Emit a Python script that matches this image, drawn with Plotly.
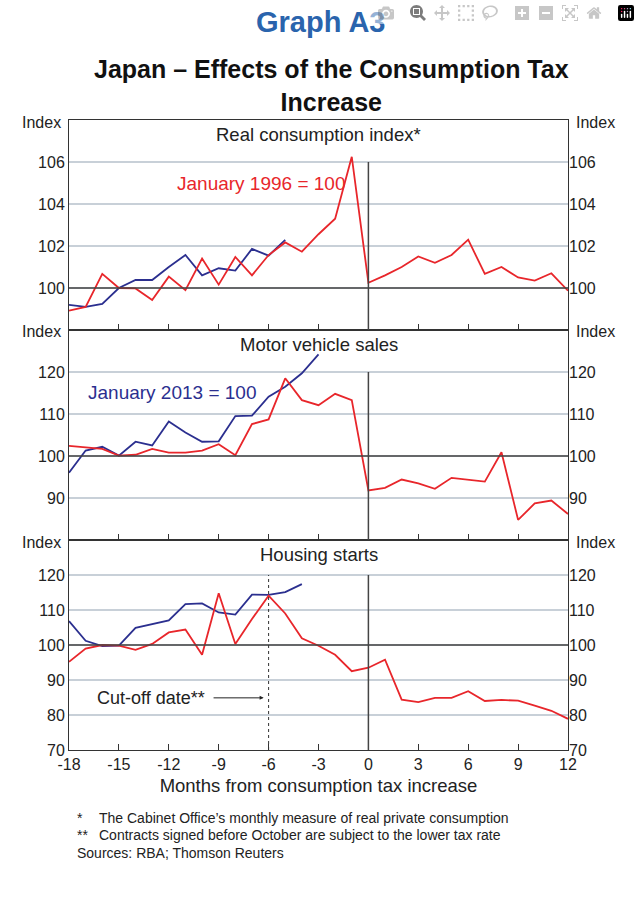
import plotly.graph_objects as go
from plotly.subplots import make_subplots

months = list(range(-18, 13))
months_pre = list(range(-18, -4))
cons_red = [98.92,99.1,100.67,100,99.98,99.43,100.54,99.9,101.4,100.16,101.48,100.6,101.57,102.17,101.73,102.56,103.3,106.25,
            100.25,100.6,101,101.5,101.2,101.57,102.3,100.67,101,100.5,100.35,100.7,99.87]
cons_blue = [99.2,99.1,99.24,100,100.38,100.38,101,101.57,100.6,100.94,100.83,101.86,101.54,102.29]
mv_red = [102.4,102.1,101.7,100.1,100.3,101.7,100.8,100.8,101.3,102.8,100.2,107.6,108.7,118.5,113.3,112.1,114.8,113.3,
          91.8,92.4,94.4,93.5,92.2,94.8,94.3,93.9,100.9,84.8,88.7,89.4,86.2]
mv_blue_x = list(range(-18, -2))
mv_blue = [96,101.3,102.2,100.1,103.4,102.5,108.2,105.6,103.4,103.5,109.5,109.6,114.1,116.5,119.7,124.2]
hs_red = [95.2,99,100,99.8,98.6,100.3,103.6,104.4,97.2,114.8,100.3,107.4,114.1,109,101.9,99.8,97.2,92.5,
          93.5,95.8,84.4,83.7,84.9,84.9,86.8,84,84.3,84.1,82.7,81.2,78.9]
hs_blue_x = list(range(-18, -3))
hs_blue = [106.8,101.2,99.7,99.8,104.9,106,107,111.7,111.9,109.3,108.7,114.4,114.3,115.1,117.4]
x_ticks = list(range(-18, 13, 3))

RED = "#e8262b"; BLUE = "#2b2f8f"; GRID = "#c8d0d8"; TXT = "#222"
F = "Arial, Liberation Sans, sans-serif"
W, HGT = 640, 907
ML, MR, MT, MB = 69, 72, 120, 157

panels = [
    dict(red=(months, cons_red), blue=(months_pre, cons_blue), rng=[98,108], ticks=[100,102,104,106], top=106, title="Real consumption index*"),
    dict(red=(months, mv_red), blue=(mv_blue_x, mv_blue), rng=[80,130], ticks=[90,100,110,120], top=120, title="Motor vehicle sales"),
    dict(red=(months, hs_red), blue=(hs_blue_x, hs_blue), rng=[70,130], ticks=[70,80,90,100,110,120], top=120, title="Housing starts"),
]

fig = make_subplots(rows=3, cols=1, shared_xaxes=True, vertical_spacing=0)
H = 1/3
tf = dict(size=16, color=TXT, family=F)
for i, p in enumerate(panels):
    r = i + 1
    xn = "x" if r == 1 else f"x{r}"
    yref = "y" if r == 1 else f"y{r}"
    fig.add_trace(go.Scatter(x=p["blue"][0], y=p["blue"][1], mode="lines", line=dict(color=BLUE, width=1.8), showlegend=False, hoverinfo="skip"), row=r, col=1)
    fig.add_trace(go.Scatter(x=p["red"][0], y=p["red"][1], mode="lines", line=dict(color=RED, width=1.8), showlegend=False, hoverinfo="skip"), row=r, col=1)
    fig.update_yaxes(range=p["rng"], tickvals=p["ticks"], showgrid=True, gridcolor=GRID, gridwidth=1.5,
                     zeroline=False, showline=True, linecolor="#333", mirror=True, ticks="",
                     tickfont=tf, row=r, col=1)
    fig.update_layout(**{f"yaxis{r+3}": dict(range=p["rng"], tickvals=p["ticks"], overlaying=yref, side="right",
                                              anchor=xn, showgrid=False, zeroline=False, showline=False, ticks="",
                                              tickfont=tf)})
    fig.add_trace(go.Scatter(x=[-18], y=[p["rng"][0]], xaxis=xn, yaxis=f"y{r+3}", mode="markers",
                             marker=dict(opacity=0), showlegend=False, hoverinfo="skip"))
    dom = [1 - (i+1)*H, 1 - i*H]
    fig.add_shape(type="line", x0=-18, x1=12, y0=100, y1=100, xref=xn, yref=yref, line=dict(color="#444", width=1.5))
    fig.add_shape(type="line", x0=0, x1=0, y0=p["rng"][0], y1=p["top"], xref=xn, yref=yref, line=dict(color="#444", width=1.5))
    fig.add_annotation(x=0.5, xref="paper", y=dom[1], yref="paper", yshift=-2, text=p["title"], showarrow=False,
                       yanchor="top", font=dict(size=18.5, color=TXT, family=F))
    fig.add_annotation(x=-0.012, xref="paper", y=dom[1], yref="paper", text="Index", showarrow=False,
                       xanchor="right", yanchor="middle", yshift=-2, font=tf)
    fig.add_annotation(x=1.012, xref="paper", y=dom[1], yref="paper", text="Index", showarrow=False,
                       xanchor="left", yanchor="middle", yshift=-2, font=tf)

fig.add_shape(type="line", x0=-6, x1=-6, y0=70, y1=120, xref="x3", yref="y3", line=dict(color="#333", width=1, dash="dot"))
fig.add_annotation(x=-6.3, y=84.9, ax=-9.4, ay=84.9, axref="x3", ayref="y3", xref="x3", yref="y3", text="", showarrow=True,
                   arrowhead=2, arrowsize=0.8, arrowwidth=1, arrowcolor=TXT)
fig.add_annotation(x=-9.7, y=84.9, xref="x3", yref="y3", text="Cut-off date**", showarrow=False, xanchor="right",
                   font=dict(size=18, color=TXT, family=F))
fig.add_annotation(x=-6.45, y=105, xref="x", yref="y", text="January 1996 = 100", showarrow=False,
                   font=dict(size=19, color=RED, family=F))
fig.add_annotation(x=-11.8, y=115.2, xref="x2", yref="y2", text="January 2013 = 100", showarrow=False,
                   font=dict(size=19, color=BLUE, family=F))

for r in (1, 2, 3):
    fig.update_xaxes(range=[-18, 12], tickvals=x_ticks, ticktext=[str(v) for v in x_ticks], showgrid=False, zeroline=False,
                     showline=True, linecolor="#333", mirror=True, ticks="inside", ticklen=6, tickcolor="#333",
                     tickfont=tf, row=r, col=1)
fig.update_xaxes(title=dict(text="Months from consumption tax increase", font=dict(size=18.5, color=TXT, family=F), standoff=6), row=3, col=1)

fig.update_layout(width=W, height=HGT, plot_bgcolor="white", paper_bgcolor="white",
                  margin=dict(l=ML, r=MR, t=MT, b=MB), font=dict(family=F))

def px(x):
    return (x - ML) / (W - ML - MR)
def py(y):
    return (HGT - MB - y) / (HGT - MT - MB)

fig.add_annotation(x=px(320), xref="paper", y=py(22), yref="paper", text="<b>Graph A3</b>", showarrow=False,
                   yanchor="middle", font=dict(size=29, color="#2a64ad", family=F))
fig.add_annotation(x=px(331), xref="paper", y=py(86), yref="paper", text="<b>Japan – Effects of the Consumption Tax<br>Increase</b>",
                   showarrow=False, yanchor="middle", font=dict(size=25, color="#111", family=F))
notes = [("*", "The Cabinet Office’s monthly measure of real private consumption", 818),
         ("**", "Contracts signed before October are subject to the lower tax rate", 835)]
for sym, t, yy in notes:
    fig.add_annotation(x=px(75), xref="paper", y=py(yy), yref="paper", text=sym, showarrow=False, xanchor="left",
                       yanchor="middle", font=dict(size=14, color=TXT, family=F))
    fig.add_annotation(x=px(97), xref="paper", y=py(yy), yref="paper", text=t, showarrow=False, xanchor="left",
                       yanchor="middle", font=dict(size=14, color=TXT, family=F))
fig.add_annotation(x=px(75), xref="paper", y=py(853), yref="paper", text="Sources: RBA; Thomson Reuters", showarrow=False,
                   xanchor="left", yanchor="middle", font=dict(size=14, color=TXT, family=F))

fig.write_html("out.html")
with open("out.html", encoding="utf-8") as fh:
    html = fh.read()
html = html.replace("<body>", '<body style="margin:0">', 1)
with open("out.html", "w", encoding="utf-8") as fh:
    fh.write(html)
